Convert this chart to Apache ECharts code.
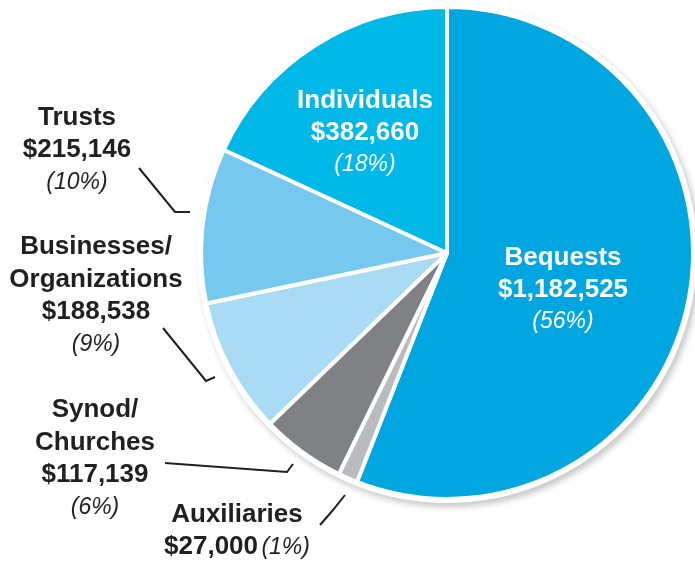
<!DOCTYPE html>
<html>
<head>
<meta charset="utf-8">
<script src="https://cdn.jsdelivr.net/npm/echarts@6/dist/echarts.min.js"></script>
<style>
  html, body { margin: 0; padding: 0; background: #fff; }
  #chart { width: 695px; height: 562px; }
</style>
</head>
<body>
<div id="chart"></div>
<script>
// gift sources, clockwise from 12 o'clock
const names = ["Bequests", "Auxiliaries", "Synod/\nChurches", "Businesses/\nOrganizations", "Trusts", "Individuals"];
const amounts = [1182525, 27000, 117139, 188538, 215146, 382660];

const colors = ["#00a6df", "#babbbe", "#808184", "#a9dbf5", "#76c8ef", "#00b8e7"];
// label centres (px)
const labelSpots = [[563, 290], [237, 531], [95, 459], [96, 296], [77, 150], [365, 133]];
// leader lines (px), null = label sits inside slice
const leaders = [
  null,
  [[320, 525], [333, 510], [345, 495]],
  [[165, 463], [287, 472], [293, 464]],
  [[163, 328], [206, 381], [215, 377]],
  [[139, 168], [175, 212], [190, 212]],
  null
];

const total = amounts.reduce((a, b) => a + b, 0);

const chart = echarts.init(document.getElementById("chart"));

chart.setOption({
  animation: false,
  textStyle: { fontFamily: "Liberation Sans, Arial, sans-serif" },
  series: [
    {
      // white rim with the drop shadow under the pie
      type: "pie",
      silent: true,
      center: [447, 253],
      radius: [0, 250],
      label: { show: false },
      labelLine: { show: false },
      itemStyle: {
        color: "#fff",
        shadowColor: "rgba(0,0,0,0.22)",
        shadowBlur: 6,
        shadowOffsetX: 3,
        shadowOffsetY: 4
      },
      data: [{ value: total, name: "all" }]
    },
    {
      type: "pie",
      center: [447, 253],
      radius: [0, 246],
      startAngle: 90,
      clockwise: true,
      itemStyle: { borderColor: "#fff", borderWidth: 4 },
      label: {
        show: true,
        position: "outside",
        overflow: "none",
        formatter: function (p) {
          const pct = Math.round(p.percent);
          const money = "$" + p.value.toLocaleString("en-US");
          const s = leaders[p.dataIndex] ? "d" : "w";
          const nameLines = p.name.split("\n").map((t) => "{" + s + "b|" + t + "}");
          if (p.dataIndex === 1) {
            return nameLines.join("\n") + "\n{" + s + "b|" + money + "} {" + s + "i|(" + pct + "%)}";
          }
          return nameLines.join("\n") + "\n{" + s + "b|" + money + "}\n{" + s + "i|(" + pct + "%)}";
        },
        rich: {
          wb: { color: "#fff", fontWeight: "bold", fontSize: 26, lineHeight: 32 },
          wi: { color: "#fff", fontStyle: "italic", fontSize: 23, lineHeight: 32 },
          db: { color: "#231f20", fontWeight: "bold", fontSize: 26, lineHeight: 32.5 },
          di: { color: "#231f20", fontStyle: "italic", fontSize: 23, lineHeight: 32.5 }
        }
      },
      labelLine: {
        show: true,
        lineStyle: { color: "#231f20", width: 2 }
      },
      labelLayout: function (p) {
        const spot = labelSpots[p.dataIndex];
        const out = { x: spot[0], y: spot[1], align: "center", verticalAlign: "middle" };
        if (leaders[p.dataIndex]) out.labelLinePoints = leaders[p.dataIndex];
        return out;
      },
      data: names.map((n, i) => ({
        name: n,
        value: amounts[i],
        itemStyle: { color: colors[i] },
        labelLine: { show: !!leaders[i] }
      }))
    }
  ]
});
</script>
</body>
</html>
